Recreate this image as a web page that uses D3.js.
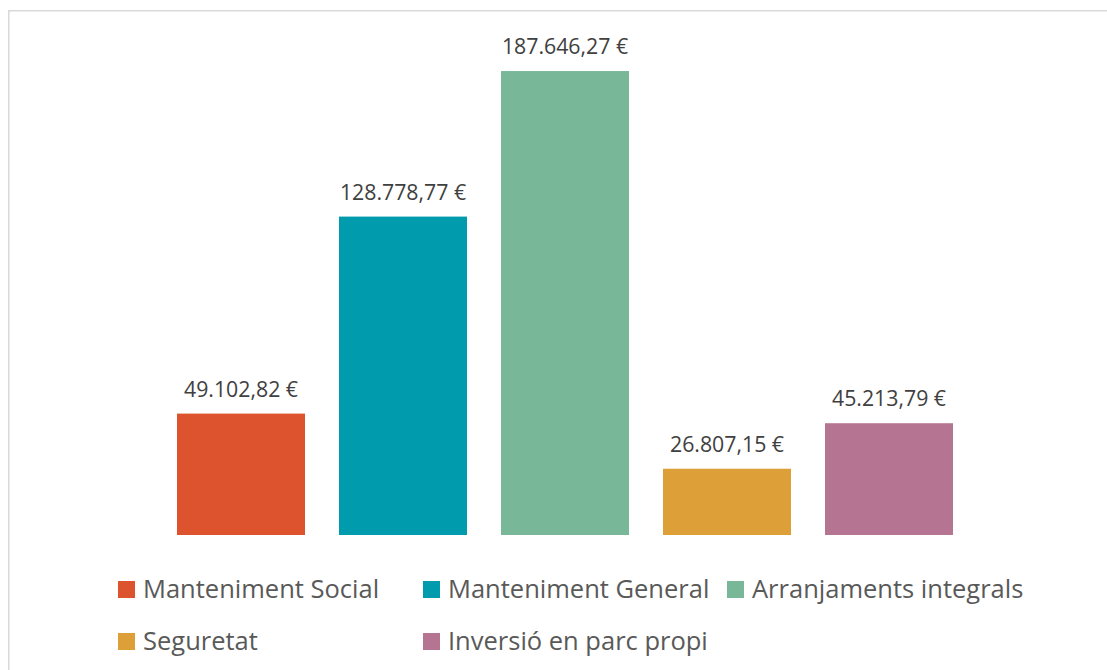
<!DOCTYPE html>
<html>
<head>
<meta charset="utf-8">
<script src="https://cdn.jsdelivr.net/npm/d3@7/dist/d3.min.js"></script>
<style>
  html, body { margin: 0; padding: 0; background: #fff; }
  svg { display: block; }
</style>
</head>
<body>
<svg id="chart" width="1107" height="670"></svg>
<script>
const categories = ["Manteniment Social", "Manteniment General", "Arranjaments integrals", "Seguretat", "Inversió en parc propi"];
const values = [49102.82, 128778.77, 187646.27, 26807.15, 45213.79];
const labels = ["49.102,82 €", "128.778,77 €", "187.646,27 €", "26.807,15 €", "45.213,79 €"];
const colors = ["#DC532D", "#009CAE", "#78B899", "#DDA038", "#B57592"];
const yDomain = [0, 200000];

const svg = d3.select("#chart");
const font = "'Open Sans', 'Noto Sans', sans-serif";

// chart border (only top and left edges visible in frame)
svg.append("rect")
  .attr("x", 8.75).attr("y", 10.75)
  .attr("width", 1200).attr("height", 800)
  .attr("fill", "none").attr("stroke", "#d9d9d9").attr("stroke-width", 1.5);

const x = d3.scaleBand()
  .domain(categories)
  .range([160, 970])
  .paddingInner(34 / 162)
  .paddingOuter(17 / 162);

const y = d3.scaleLinear().domain(yDomain).range([535, 40.5]);

const g = svg.append("g");
g.selectAll("rect.bar")
  .data(categories)
  .join("rect")
  .attr("class", "bar")
  .attr("x", d => x(d))
  .attr("width", x.bandwidth())
  .attr("y", (d, i) => y(values[i]))
  .attr("height", (d, i) => y(0) - y(values[i]))
  .attr("fill", (d, i) => colors[i]);

g.selectAll("text.lbl")
  .data(categories)
  .join("text")
  .attr("class", "lbl")
  .attr("x", d => x(d) + x.bandwidth() / 2)
  .attr("y", (d, i) => y(values[i]) - 17)
  .attr("text-anchor", "middle")
  .attr("font-family", font)
  .attr("font-size", 21.3)
  .attr("fill", "#404040")
  .text((d, i) => labels[i]);

// legend
const legendPos = [[118, 589.5], [423, 589.5], [727, 589.5], [118, 641.5], [423, 641.5]];
const lg = svg.append("g").selectAll("g")
  .data(categories)
  .join("g")
  .attr("transform", (d, i) => `translate(${legendPos[i][0]},${legendPos[i][1]})`);
lg.append("rect")
  .attr("x", 0).attr("y", -8.5)
  .attr("width", 17).attr("height", 17)
  .attr("fill", (d, i) => colors[i]);
lg.append("text")
  .attr("x", 25).attr("y", 8.5)
  .attr("font-family", font)
  .attr("font-size", 25.5)
  .attr("fill", "#595959")
  .text(d => d);
</script>
</body>
</html>
